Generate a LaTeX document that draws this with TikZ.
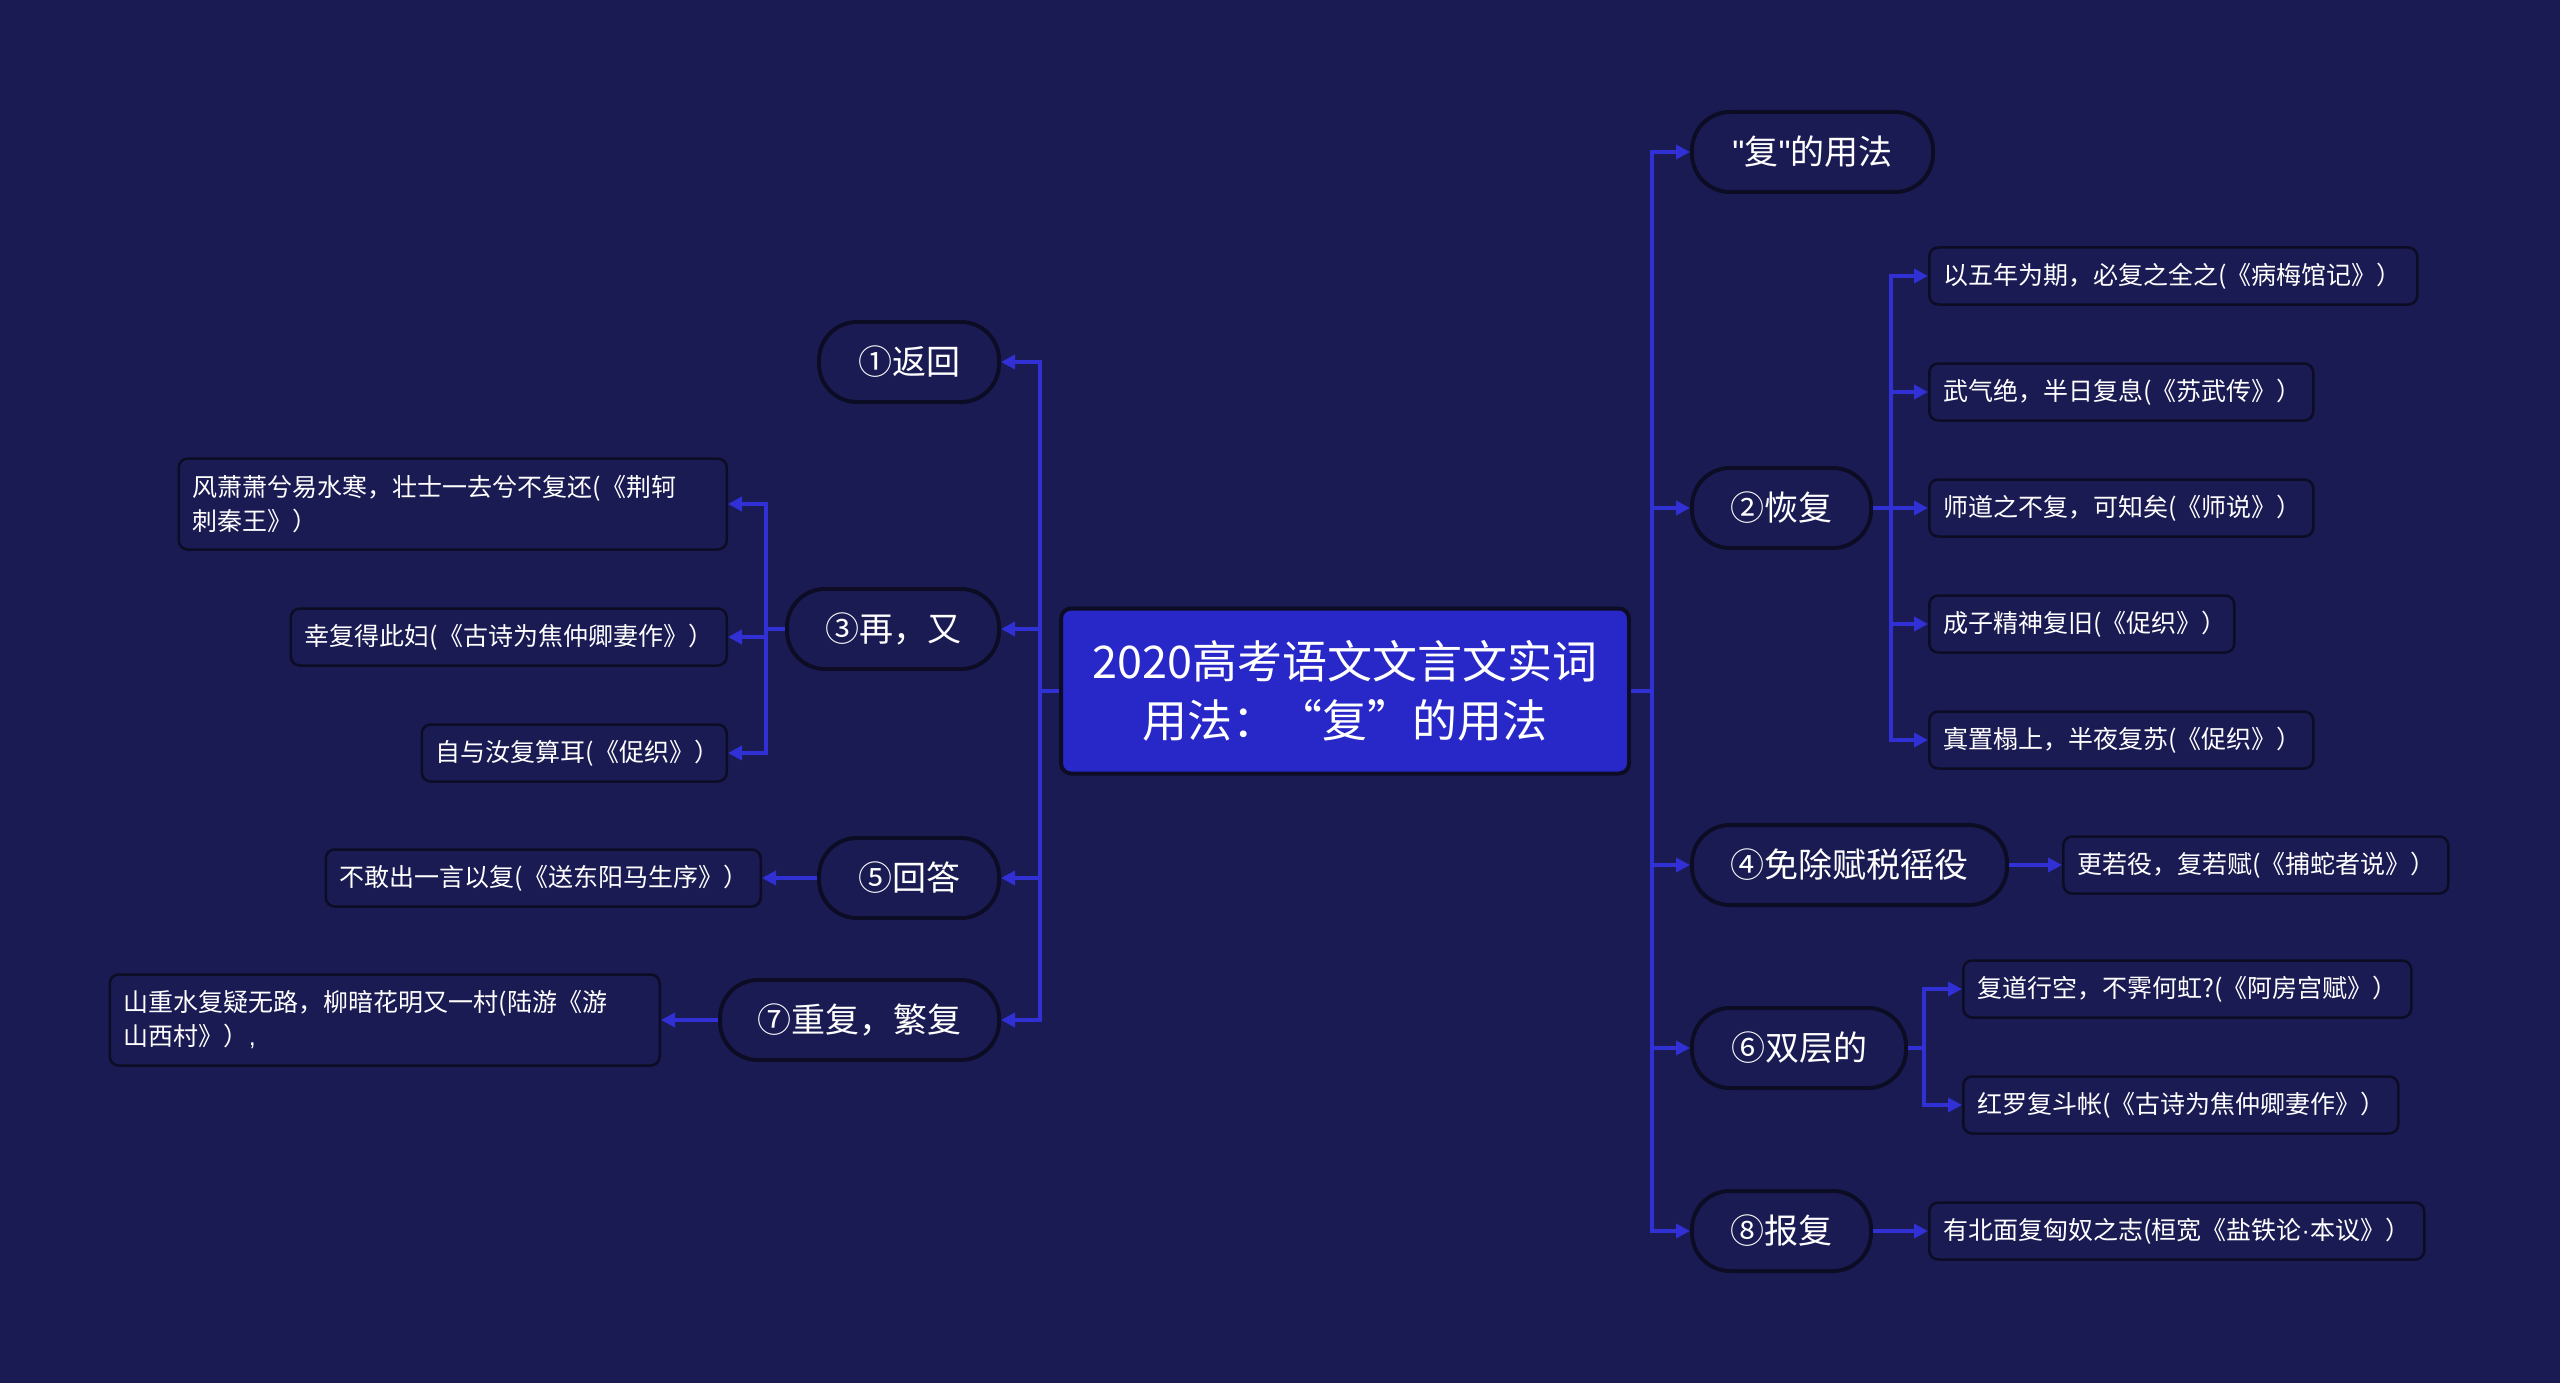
\documentclass[tikz,border=0pt]{standalone}
\usepackage{fontspec}
\setmainfont{Noto Sans CJK SC}[Ligatures=TeXOff]
\newfontfamily\latinfont{Liberation Sans}[Ligatures=TeXOff]
\usetikzlibrary{arrows.meta}
\definecolor{bg}{RGB}{27,27,84}
\definecolor{centerfill}{RGB}{40,40,200}
\definecolor{linec}{RGB}{48,48,212}
\definecolor{nodeborder}{RGB}{12,12,36}
\begin{document}
\begin{tikzpicture}[x=1pt,y=-1pt,
  pill/.style={draw=nodeborder, line width=4pt, fill=bg, rounded corners=38pt, minimum height=80pt, inner sep=0pt, text=white, font=\fontsize{34}{40}\selectfont},
  leaf/.style={draw=nodeborder, line width=2.5pt, fill=bg, rounded corners=9pt, minimum height=57pt, inner xsep=14pt, inner ysep=0pt, text=white, align=left, font=\fontsize{25}{34}\selectfont},
  centerbox/.style={draw=nodeborder, line width=4pt, fill=centerfill, rounded corners=10pt, minimum width=568pt, minimum height=165pt, text=white, align=center, font=\fontsize{45}{59}\selectfont},
  conn/.style={draw=linec, line width=3.5pt},
  arr/.style={conn, -{Triangle[length=14pt,width=14pt]}},
]
\useasboundingbox[fill=bg] (0,0) rectangle (2560,1383);

% center
\node[centerbox] (C) at (1345,691) {2020高考语文文言文实词\\用法：“复”的用法};

% right level 1
\node[pill, minimum width=241pt, anchor=west] (R0) at (1690,152) {{\latinfont"}复{\latinfont"}的用法};
\node[pill, minimum width=179pt, anchor=west] (R2) at (1690,508) {②恢复};
\node[pill, minimum width=315pt, anchor=west] (R4) at (1690,865) {④免除赋税徭役};
\node[pill, minimum width=214pt, anchor=west] (R6) at (1690,1048) {⑥双层的};
\node[pill, minimum width=179pt, anchor=west] (R8) at (1690,1231) {⑧报复};

% right leaves
\node[leaf, text width=460pt, anchor=west] (A1) at (1928,276) {以五年为期，必复之全之(《病梅馆记》）};
\node[leaf, text width=356pt, anchor=west] (A2) at (1928,392) {武气绝，半日复息(《苏武传》）};
\node[leaf, text width=356pt, anchor=west] (A3) at (1928,508) {师道之不复，可知矣(《师说》）};
\node[leaf, text width=277pt, anchor=west] (A4) at (1928,624) {成子精神复旧(《促织》）};
\node[leaf, text width=356pt, anchor=west] (A5) at (1928,740) {寘置榻上，半夜复苏(《促织》）};
\node[leaf, text width=357pt, anchor=west] (B1) at (2062,865) {更若役，复若赋(《捕蛇者说》）};
\node[leaf, text width=420pt, anchor=west] (D1) at (1962,989) {复道行空，不霁何虹?(《阿房宫赋》）};
\node[leaf, text width=407pt, anchor=west] (D2) at (1962,1105) {红罗复斗帐(《古诗为焦仲卿妻作》）};
\node[leaf, text width=467pt, anchor=west] (E1) at (1928,1231) {有北面复匈奴之志(桓宽《盐铁论{\latinfont ·}本议》）};

% left level 1
\node[pill, minimum width=180pt, anchor=east] (L1) at (1001,362) {①返回};
\node[pill, minimum width=212pt, anchor=east] (L3) at (1001,629) {③再，又};
\node[pill, minimum width=180pt, anchor=east] (L5) at (1001,878) {⑤回答};
\node[pill, minimum width=279pt, anchor=east] (L7) at (1001,1020) {⑦重复，繁复};

% left leaves
\node[leaf, text width=520pt, minimum height=91pt, anchor=east] (F1) at (728,504) {风萧萧兮易水寒，壮士一去兮不复还(《荆轲\\刺秦王》）};
\node[leaf, text width=408pt, anchor=east] (F2) at (728,637) {幸复得此妇(《古诗为焦仲卿妻作》）};
\node[leaf, text width=277pt, anchor=east] (F3) at (728,753) {自与汝复算耳(《促织》）};
\node[leaf, text width=407pt, anchor=east] (G1) at (762,878) {不敢出一言以复(《送东阳马生序》）};
\node[leaf, text width=522pt, minimum height=91pt, anchor=east] (H1) at (661,1020) {山重水复疑无路，柳暗花明又一村(陆游《游\\山西村》）{\latinfont ,}};

% junction coordinates
\coordinate (rt) at (1652,691);
\coordinate (lt) at (1040,691);
\coordinate (r2t) at (1891,508);
\coordinate (r6t) at (1924,1048);
\coordinate (l3t) at (766,629);

% right connectors
\draw[conn] (C.east) -- (rt);
\foreach \n in {R0,R2,R4,R6,R8} \draw[arr] (rt) |- (\n.west);
\draw[conn] (R2.east) -- (r2t);
\foreach \n in {A1,A2,A3,A4,A5} \draw[arr] (r2t) |- (\n.west);
\draw[arr] (R4.east) -- (B1.west);
\draw[conn] (R6.east) -- (r6t);
\foreach \n in {D1,D2} \draw[arr] (r6t) |- (\n.west);
\draw[arr] (R8.east) -- (E1.west);

% left connectors
\draw[conn] (C.west) -- (lt);
\foreach \n in {L1,L3,L5,L7} \draw[arr] (lt) |- (\n.east);
\draw[conn] (L3.west) -- (l3t);
\foreach \n in {F1,F2,F3} \draw[arr] (l3t) |- (\n.east);
\draw[arr] (L5.west) -- (G1.east);
\draw[arr] (L7.west) -- (H1.east);
\end{tikzpicture}
\end{document}
